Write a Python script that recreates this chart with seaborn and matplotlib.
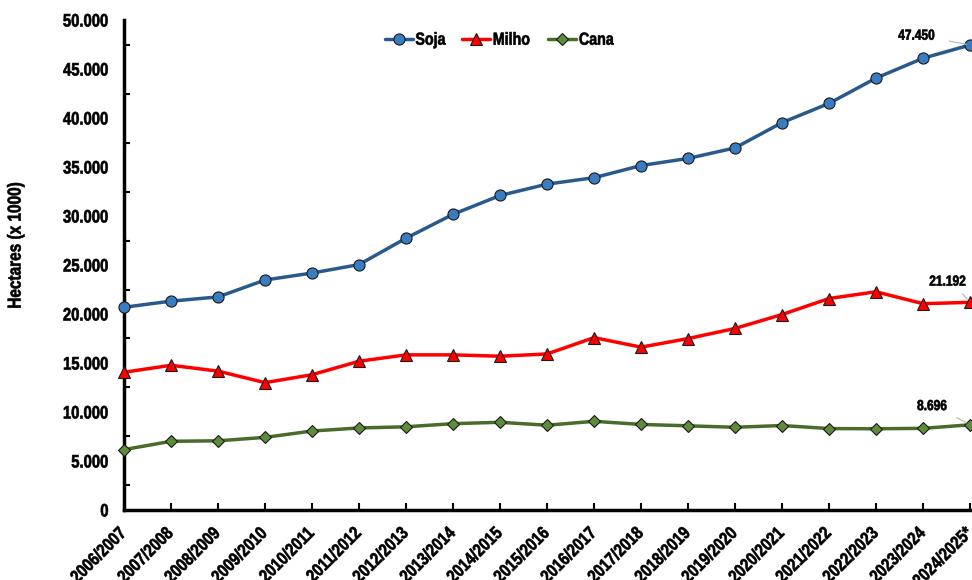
import matplotlib
matplotlib.use("Agg")
import matplotlib.pyplot as plt
from matplotlib.ticker import FuncFormatter, MultipleLocator
from matplotlib.patheffects import AbstractPathEffect
from matplotlib.transforms import Affine2D
import seaborn as sns
import pandas as pd

safras = ["2006/2007", "2007/2008", "2008/2009", "2009/2010", "2010/2011",
          "2011/2012", "2012/2013", "2013/2014", "2014/2015", "2015/2016",
          "2016/2017", "2017/2018", "2018/2019", "2019/2020", "2020/2021",
          "2021/2022", "2022/2023", "2023/2024", "2024/2025*"]

soja = [20687, 21313, 21743, 23468, 24181, 25042, 27736, 30173, 32093, 33252,
        33909, 35149, 35874, 36950, 39531, 41492, 44075, 46100, 47450]
milho = [14055, 14766, 14172, 12994, 13806, 15178, 15829, 15829, 15693, 15922,
         17591, 16616, 17492, 18527, 19945, 21581, 22269, 21050, 21192]
cana = [6163, 7010, 7060, 7410, 8060, 8370, 8490, 8810, 8950, 8650,
        9050, 8730, 8590, 8440, 8620, 8310, 8290, 8330, 8696]


class Narrow(AbstractPathEffect):
    """Draw glyphs squeezed along the baseline, like a narrow bold typeface."""

    def __init__(self, sx=0.82, anchor="left", stroke=0.45):
        super().__init__()
        self.sx = sx
        self.anchor = anchor
        self.stroke = stroke

    def draw_path(self, renderer, gc, tpath, affine, rgbFace=None):
        ext = tpath.get_extents()
        if self.anchor == "right":
            x0 = ext.x1
        elif self.anchor == "center":
            x0 = 0.5 * (ext.x0 + ext.x1)
        else:
            x0 = ext.x0
        pre = Affine2D().translate(-x0, 0).scale(self.sx, 1).translate(x0, 0)
        gc0 = renderer.new_gc()
        gc0.copy_properties(gc)
        if rgbFace is not None:
            gc0.set_foreground(rgbFace)
        gc0.set_linewidth(self.stroke)
        renderer.draw_path(gc0, tpath, pre + affine, rgbFace)
        gc0.restore()


sns.set_theme(style="white")
plt.rcParams["font.family"] = ["Liberation Sans", "DejaVu Sans"]
plt.rcParams["font.weight"] = "bold"
for key in ("text.color", "axes.labelcolor", "xtick.color", "ytick.color"):
    plt.rcParams[key] = "black"

fig = plt.figure(figsize=(9.72, 5.8), dpi=100)
ax = fig.add_axes([0.1276, 0.1207, 0.8704, 0.8448])

df = pd.DataFrame({"x": range(len(safras)), "Soja": soja, "Milho": milho, "Cana": cana})

series = [
    ("Soja", "#2A5A8C", "#3A7CC0", "o", 8),
    ("Milho", "#FF0000", "#FF0000", "^", 8),
    ("Cana", "#4A6B2A", "#5E8C3A", "D", 6),
]
for name, lc, fc, mk, ms in series:
    sns.lineplot(data=df, x="x", y=name, ax=ax, color=lc, linewidth=2.5,
                 marker=mk, markersize=ms, markerfacecolor=fc,
                 markeredgecolor="#1a1a1a", markeredgewidth=0.8,
                 label=name, clip_on=False, zorder=3)

ax.set_xlim(0, len(safras) - 1)
ax.set_ylim(0, 50000)
ax.set_xticks(range(len(safras)))
ax.set_xticklabels(safras, rotation=45, ha="right", va="center",
                   rotation_mode="anchor", fontsize=13, fontweight="bold")
ax.yaxis.set_major_locator(MultipleLocator(5000))
ax.yaxis.set_minor_locator(MultipleLocator(2500))
ax.yaxis.set_major_formatter(FuncFormatter(lambda v, p: f"{int(v):,}".replace(",", ".")))
ax.tick_params(axis="y", labelsize=13, direction="in", length=5, width=1.5, pad=11)
ax.tick_params(axis="y", which="minor", direction="in", length=4, width=1.5, left=True)
ax.tick_params(axis="x", direction="in", length=5, width=1.5, pad=15, bottom=True)

ax.set_xlabel("")
ylab = ax.set_ylabel("Hectares (x 1000)", fontsize=13.5, fontweight="bold")
ax.yaxis.set_label_coords(-0.1175, 0.539)

for side in ("top", "right"):
    ax.spines[side].set_visible(False)
for side in ("left", "bottom"):
    ax.spines[side].set_linewidth(2.5)
    ax.spines[side].set_color("black")

leg = ax.legend(loc="center", bbox_to_anchor=(0.448, 0.959), ncol=3,
                frameon=False, fontsize=12.5, handlelength=1.6, columnspacing=0.6,
                handletextpad=0.15)

last = len(safras) - 1
notes = [
    (soja[last], (16.47, 48400)),
    (milho[last], (17.13, 23300)),
    (cana[last], (16.87, 10600)),
]
ann = []
for val, pos in notes:
    ann.append(ax.annotate(f"{val:,}".replace(",", "."), xy=(last, val), xytext=pos,
                           fontsize=10.5, fontweight="bold", ha="left", va="center",
                           arrowprops=dict(arrowstyle="-", color="#BBBBBB", lw=0.9,
                                           shrinkA=2, shrinkB=3)))

fig.canvas.draw()
for t in ax.get_xticklabels() + ax.get_yticklabels():
    t.set_fontweight("bold")
    t.set_path_effects([Narrow(anchor="right")])
ylab.set_path_effects([Narrow(anchor="center")])
for t in leg.get_texts():
    t.set_fontweight("bold")
    t.set_path_effects([Narrow(anchor="left")])
for a in ann:
    a.set_path_effects([Narrow(anchor="left")])

fig.savefig("out.png", dpi=100)
